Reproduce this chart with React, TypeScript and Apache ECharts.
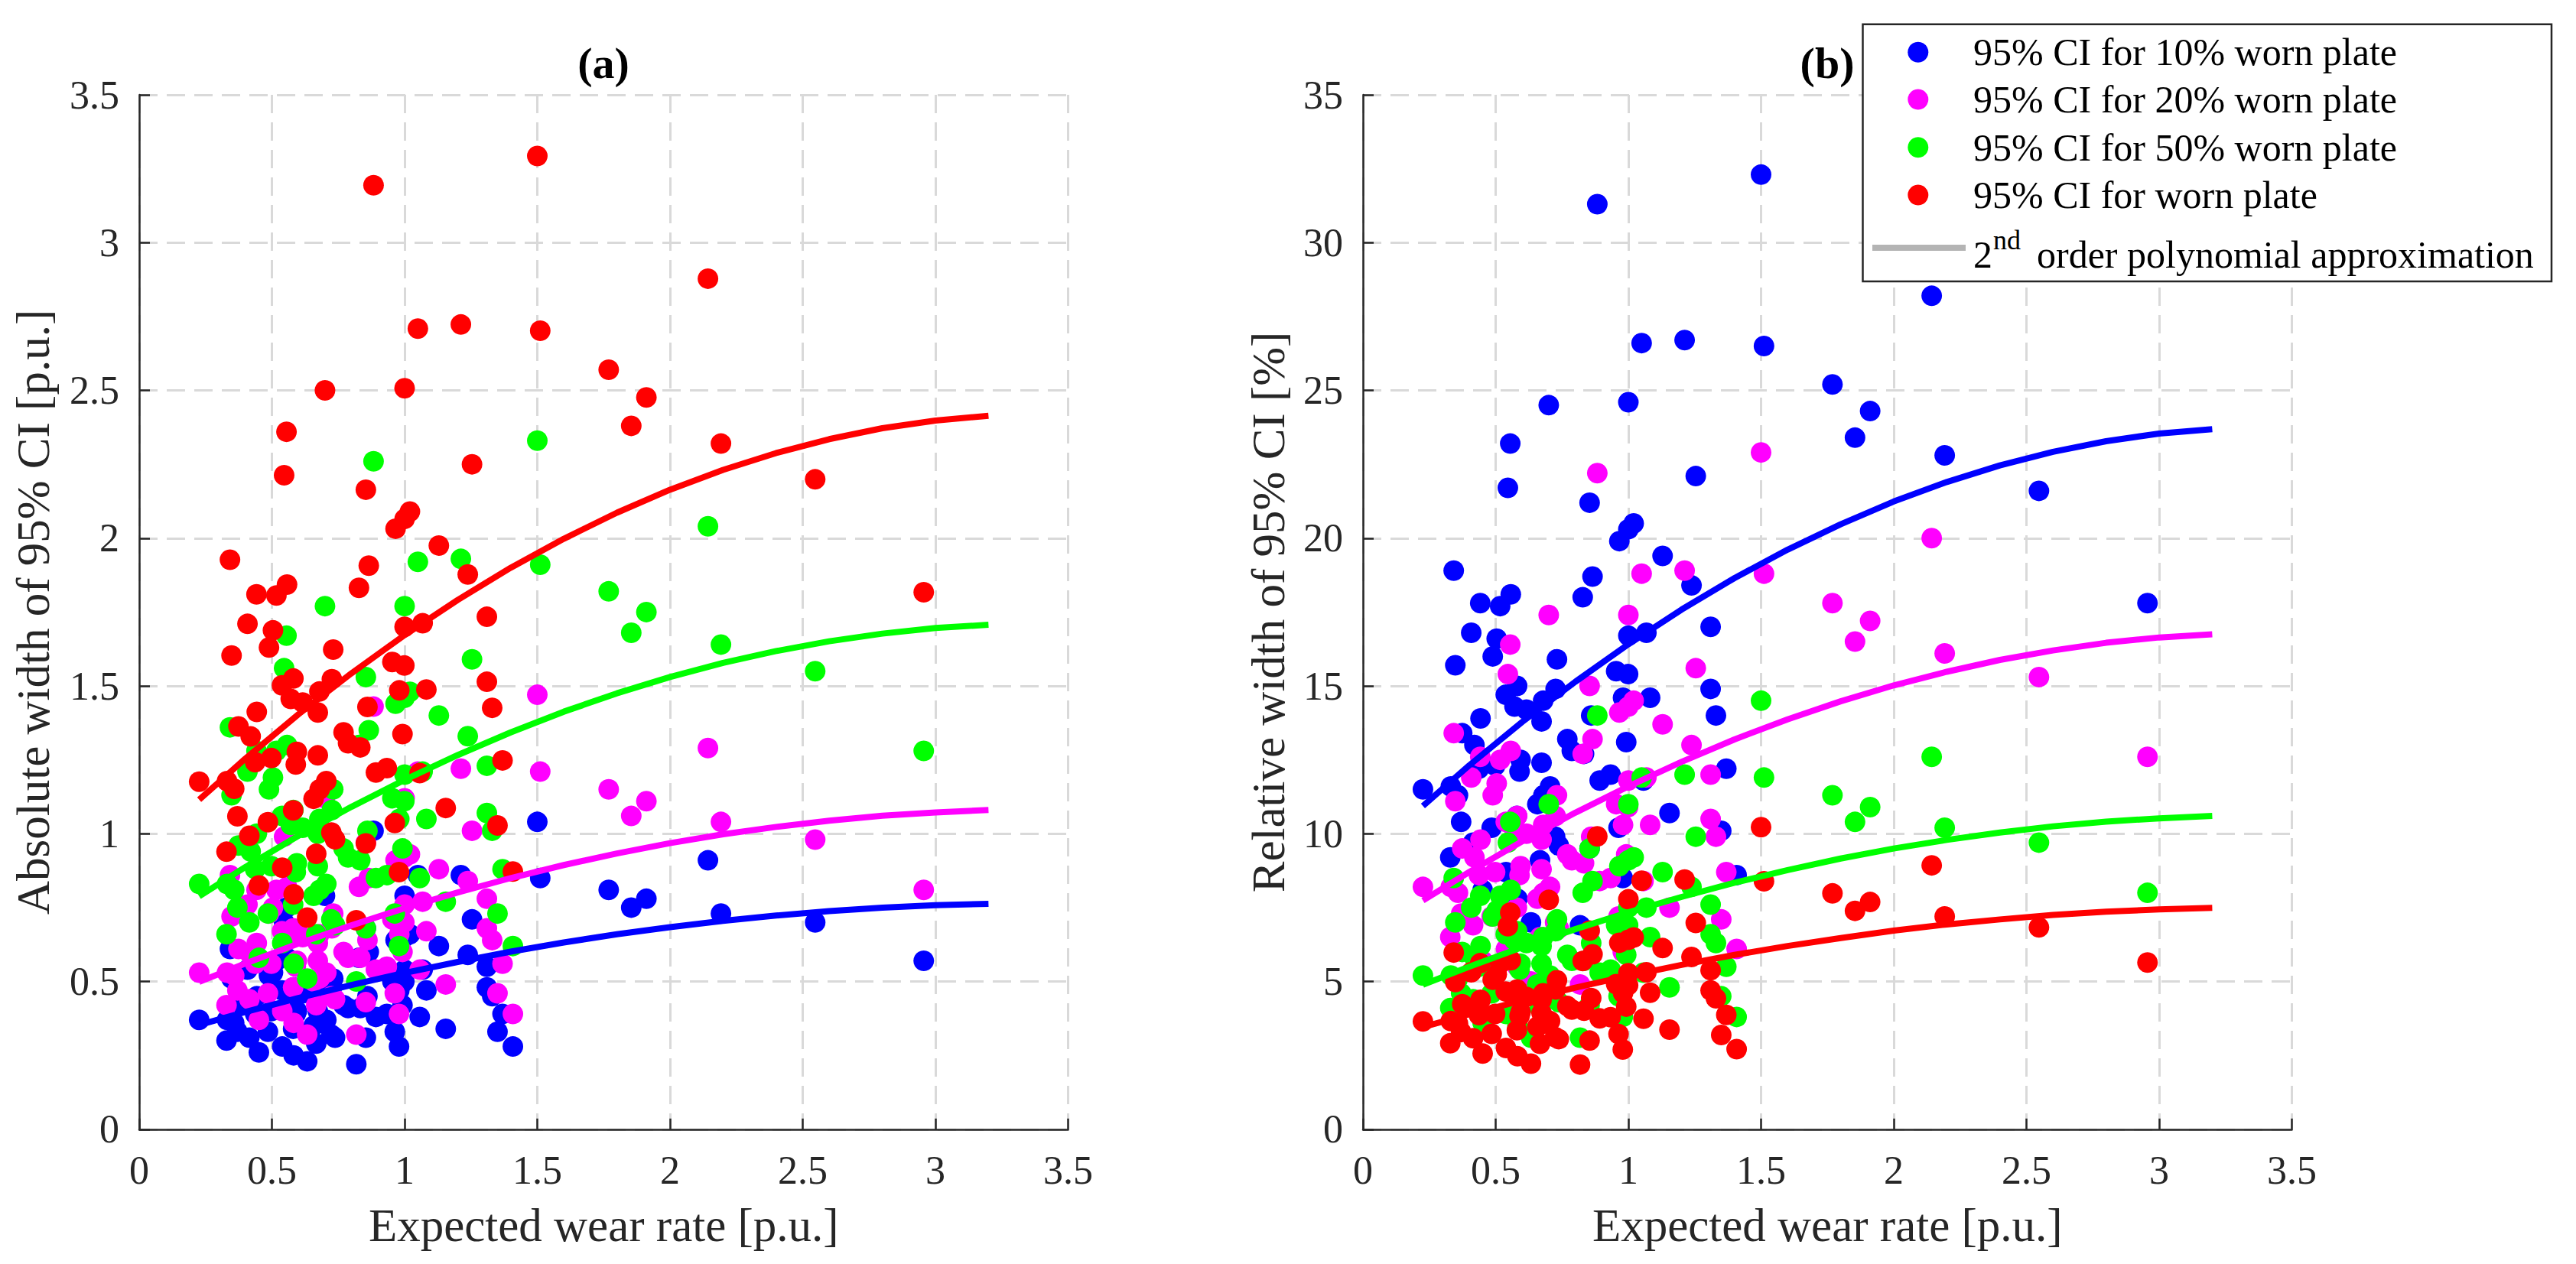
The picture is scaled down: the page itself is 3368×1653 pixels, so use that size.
import React, { useEffect, useRef } from "react";
import * as echarts from "echarts";

// Expected wear rate [p.u.] (shared by every series)
const X = [
  0.226, 0.329, 0.331, 0.342, 0.348, 0.358, 0.370, 0.374, 0.408, 0.415,
  0.420, 0.437, 0.442, 0.443, 0.451, 0.485, 0.489, 0.498, 0.504, 0.517,
  0.538, 0.539, 0.546, 0.555, 0.557, 0.571, 0.580, 0.581, 0.582, 0.590,
  0.594, 0.616, 0.633, 0.657, 0.667, 0.673, 0.673, 0.680, 0.679, 0.700,
  0.705, 0.724, 0.726, 0.731, 0.738, 0.770, 0.787, 0.818, 0.828, 0.833,
  0.854, 0.854, 0.860, 0.865, 0.883, 0.892, 0.933, 0.954, 0.963, 0.966,
  0.979, 0.980, 0.992, 0.999, 1.000, 1.000, 1.000, 1.020, 1.050, 1.057,
  1.068, 1.082, 1.129, 1.155, 1.212, 1.238, 1.254, 1.310, 1.310, 1.330,
  1.350, 1.369, 1.408, 1.500, 1.511, 1.769, 1.854, 1.911, 2.143, 2.192,
  2.547, 2.956,
];

// (a) Absolute width of 95% CI [p.u.]
const A_BLUE = [
  0.37, 0.30, 0.37, 0.61, 0.51, 0.36, 0.33, 0.43, 0.54, 0.31,
  0.42, 0.39, 0.57, 0.45, 0.26, 0.33, 0.52, 0.40, 0.53, 0.57,
  0.47, 0.28, 0.70, 0.75, 0.58, 0.46, 0.34, 0.48, 0.25, 0.39,
  0.40, 0.46, 0.23, 0.35, 0.29, 0.45, 0.40, 0.36, 0.47, 0.79,
  0.37, 0.32, 0.48, 0.51, 0.31, 0.42, 0.41, 0.22, 0.58, 0.41,
  0.31, 0.68, 0.45, 0.60, 1.01, 0.38, 0.39, 0.50, 0.33, 0.64,
  0.28, 0.47, 0.42, 0.50, 0.54, 0.79, 0.65, 0.66, 0.86, 0.38,
  0.54, 0.47, 0.62, 0.34, 0.86, 0.59, 0.71, 0.55, 0.48, 0.45,
  0.33, 0.39, 0.28, 1.04, 0.85, 0.81, 0.75, 0.78, 0.91, 0.73,
  0.70, 0.57,
];
const A_MAGENTA = [
  0.53, 0.42, 0.53, 0.86, 0.72, 0.52, 0.47, 0.61, 0.76, 0.44,
  0.59, 0.56, 0.81, 0.63, 0.37, 0.46, 0.73, 0.56, 0.75, 0.81,
  0.67, 0.40, 0.99, 1.06, 0.82, 0.65, 0.48, 0.68, 0.36, 0.55,
  0.57, 0.65, 0.32, 0.50, 0.42, 0.63, 0.57, 0.51, 0.66, 1.12,
  0.53, 0.45, 0.68, 0.73, 0.44, 0.60, 0.58, 0.32, 0.82, 0.58,
  0.43, 0.97, 0.64, 0.85, 1.43, 0.54, 0.55, 0.71, 0.46, 0.91,
  0.39, 0.66, 0.60, 0.70, 0.76, 1.12, 0.92, 0.93, 1.21, 0.54,
  0.77, 0.67, 0.88, 0.49, 1.22, 0.84, 1.01, 0.78, 0.68, 0.64,
  0.46, 0.56, 0.39, 1.47, 1.21, 1.15, 1.06, 1.11, 1.29, 1.04,
  0.98, 0.81,
];
const A_GREEN = [
  0.83, 0.66, 0.83, 1.36, 1.13, 0.81, 0.75, 0.96, 1.21, 0.70,
  0.94, 0.88, 1.28, 1.00, 0.58, 0.73, 1.15, 0.89, 1.19, 1.28,
  1.06, 0.63, 1.56, 1.67, 1.30, 1.03, 0.76, 1.08, 0.56, 0.87,
  0.90, 1.02, 0.51, 0.79, 0.66, 1.00, 0.89, 0.81, 1.05, 1.77,
  0.83, 0.71, 1.08, 1.15, 0.69, 0.95, 0.92, 0.50, 1.30, 0.91,
  0.68, 1.53, 1.01, 1.35, 2.26, 0.85, 0.86, 1.12, 0.73, 1.44,
  0.62, 1.05, 0.95, 1.11, 1.20, 1.77, 1.46, 1.48, 1.92, 0.85,
  1.21, 1.05, 1.40, 0.77, 1.93, 1.33, 1.59, 1.23, 1.07, 1.01,
  0.73, 0.88, 0.62, 2.33, 1.91, 1.82, 1.68, 1.75, 2.04, 1.64,
  1.55, 1.28,
];
const A_RED = [
  1.176, 0.939, 1.178, 1.927, 1.603, 1.152, 1.059, 1.363, 1.710, 0.993,
  1.329, 1.242, 1.810, 1.412, 0.825, 1.039, 1.630, 1.256, 1.688, 1.806,
  1.502, 0.885, 2.213, 2.360, 1.843, 1.456, 1.079, 1.525, 0.795, 1.234,
  1.277, 1.444, 0.716, 1.118, 0.932, 1.410, 1.265, 1.150, 1.481, 2.500,
  1.178, 1.004, 1.523, 1.623, 0.981, 1.343, 1.306, 0.707, 1.832, 1.292,
  0.967, 2.164, 1.429, 1.907, 3.194, 1.207, 1.222, 1.581, 1.036, 2.032,
  0.870, 1.485, 1.337, 1.569, 1.700, 2.507, 2.065, 2.090, 2.709, 1.205,
  1.712, 1.488, 1.975, 1.087, 2.723, 1.877, 2.250, 1.734, 1.514, 1.426,
  1.028, 1.248, 0.872, 3.293, 2.702, 2.570, 2.380, 2.476, 2.878, 2.320,
  2.199, 1.817,
];

// (b) Relative width of 95% CI [%]
const B_BLUE = [
  11.5, 9.2, 11.6, 18.9, 15.7, 11.3, 10.4, 13.4, 16.8, 9.7,
  13.0, 12.2, 17.8, 13.9, 8.1, 10.2, 16.0, 12.3, 16.6, 17.7,
  14.7, 8.7, 21.7, 23.2, 18.1, 14.3, 10.6, 15.0, 7.8, 12.1,
  12.5, 14.2, 7.0, 11.0, 9.1, 13.8, 12.4, 11.3, 14.5, 24.5,
  11.6, 9.9, 14.9, 15.9, 9.6, 13.2, 12.8, 6.9, 18.0, 12.7,
  9.5, 21.2, 14.0, 18.7, 31.3, 11.8, 12.0, 15.5, 10.2, 19.9,
  8.5, 14.6, 13.1, 15.4, 16.7, 24.6, 20.3, 20.5, 26.6, 11.8,
  16.8, 14.6, 19.4, 10.7, 26.7, 18.4, 22.1, 17.0, 14.9, 14.0,
  10.1, 12.2, 8.6, 32.3, 26.5, 25.2, 23.4, 24.3, 28.2, 22.8,
  21.6, 17.8,
];
const B_MAGENTA = [
  8.2, 6.5, 8.2, 13.4, 11.1, 8.0, 7.3, 9.5, 11.9, 6.9,
  9.2, 8.6, 12.6, 9.8, 5.7, 7.2, 11.3, 8.7, 11.7, 12.5,
  10.4, 6.1, 15.4, 16.4, 12.8, 10.1, 7.5, 10.6, 5.5, 8.6,
  8.9, 10.0, 5.0, 7.8, 6.5, 9.8, 8.8, 8.0, 10.3, 17.4,
  8.2, 7.0, 10.6, 11.3, 6.8, 9.3, 9.1, 4.9, 12.7, 9.0,
  6.7, 15.0, 9.9, 13.2, 22.2, 8.4, 8.5, 11.0, 7.2, 14.1,
  6.0, 10.3, 9.3, 10.9, 11.8, 17.4, 14.3, 14.5, 18.8, 8.4,
  11.9, 10.3, 13.7, 7.5, 18.9, 13.0, 15.6, 12.0, 10.5, 9.9,
  7.1, 8.7, 6.1, 22.9, 18.8, 17.8, 16.5, 17.2, 20.0, 16.1,
  15.3, 12.6,
];
const B_GREEN = [
  5.2, 4.1, 5.2, 8.5, 7.0, 5.1, 4.6, 6.0, 7.5, 4.4,
  5.8, 5.5, 7.9, 6.2, 3.6, 4.6, 7.2, 5.5, 7.4, 7.9,
  6.6, 3.9, 9.7, 10.4, 8.1, 6.4, 4.7, 6.7, 3.5, 5.4,
  5.6, 6.3, 3.1, 4.9, 4.1, 6.2, 5.6, 5.0, 6.5, 11.0,
  5.2, 4.4, 6.7, 7.1, 4.3, 5.9, 5.7, 3.1, 8.0, 5.7,
  4.2, 9.5, 6.3, 8.4, 14.0, 5.3, 5.4, 6.9, 4.5, 8.9,
  3.8, 6.5, 5.9, 6.9, 7.5, 11.0, 9.1, 9.2, 11.9, 5.3,
  7.5, 6.5, 8.7, 4.8, 12.0, 8.2, 9.9, 7.6, 6.6, 6.3,
  4.5, 5.5, 3.8, 14.5, 11.9, 11.3, 10.4, 10.9, 12.6, 10.2,
  9.7, 8.0,
];
const B_RED = [
  3.65, 2.91, 3.66, 5.98, 4.98, 3.58, 3.29, 4.23, 5.31, 3.08,
  4.13, 3.86, 5.62, 4.38, 2.56, 3.23, 5.06, 3.90, 5.24, 5.61,
  4.66, 2.75, 6.87, 7.33, 5.72, 4.52, 3.35, 4.73, 2.47, 3.83,
  3.96, 4.48, 2.22, 3.47, 2.89, 4.38, 3.93, 3.57, 4.60, 7.76,
  3.66, 3.12, 4.73, 5.04, 3.05, 4.17, 4.05, 2.19, 5.69, 4.01,
  3.00, 6.72, 4.44, 5.92, 9.91, 3.75, 3.79, 4.91, 3.22, 6.31,
  2.70, 4.61, 4.15, 4.87, 5.28, 7.78, 6.41, 6.49, 8.41, 3.74,
  5.31, 4.62, 6.13, 3.37, 8.45, 5.83, 6.98, 5.38, 4.70, 4.43,
  3.19, 3.87, 2.71, 10.22, 8.39, 7.98, 7.39, 7.69, 8.93, 7.20,
  6.83, 5.64,
];

// 2nd order polynomial approximation curves, read at these x positions
const FIT_X = [0.226, 0.4, 0.6, 0.8, 1.0, 1.2, 1.4, 1.6, 1.8, 2.0, 2.2, 2.4, 2.6, 2.8, 3.0, 3.2];
const FIT_A_BLUE = [0.353, 0.397, 0.444, 0.488, 0.529, 0.566, 0.601, 0.632, 0.660, 0.684, 0.705, 0.723, 0.738, 0.750, 0.758, 0.763];
const FIT_A_MAGENTA = [0.499, 0.561, 0.628, 0.690, 0.748, 0.801, 0.850, 0.894, 0.933, 0.968, 0.998, 1.023, 1.044, 1.061, 1.072, 1.080];
const FIT_A_GREEN = [0.788, 0.887, 0.993, 1.091, 1.182, 1.266, 1.343, 1.413, 1.475, 1.530, 1.578, 1.618, 1.651, 1.677, 1.696, 1.707];
const FIT_A_RED = [1.115, 1.254, 1.404, 1.543, 1.672, 1.791, 1.900, 1.998, 2.086, 2.164, 2.231, 2.288, 2.335, 2.372, 2.398, 2.414];
const FIT_B_BLUE = [10.94, 12.31, 13.78, 15.14, 16.41, 17.58, 18.65, 19.61, 20.47, 21.24, 21.90, 22.46, 22.92, 23.28, 23.54, 23.69];
const FIT_B_MAGENTA = [7.74, 8.70, 9.74, 10.71, 11.60, 12.43, 13.19, 13.87, 14.48, 15.02, 15.48, 15.88, 16.20, 16.46, 16.64, 16.75];
const FIT_B_GREEN = [4.89, 5.50, 6.16, 6.77, 7.34, 7.86, 8.34, 8.77, 9.16, 9.50, 9.79, 10.04, 10.25, 10.41, 10.52, 10.60];
const FIT_B_RED = [3.46, 3.89, 4.36, 4.79, 5.19, 5.56, 5.90, 6.20, 6.47, 6.72, 6.93, 7.10, 7.25, 7.36, 7.44, 7.49];

const SERIES_NAMES = [
  "95% CI for 10% worn plate",
  "95% CI for 20% worn plate",
  "95% CI for 50% worn plate",
  "95% CI for worn plate",
];
const COLORS = ["#0000ff", "#ff00ff", "#00ff00", "#ff0000"];
const TITLES = ["(a)", "(b)"];
const X_NAME = "Expected wear rate [p.u.]";
const Y_NAMES = ["Absolute width of 95% CI [p.u.]", "Relative width of 95% CI [%]"];
const FIT_LABEL = ["2", "nd", "order polynomial approximation"];

const FONT = '"Liberation Serif", "Times New Roman", Times, serif';
const AX = "#262626";

export default function App() {
  const ref = useRef<HTMLDivElement>(null);

  useEffect(() => {
    document.body.style.margin = "0";
    const chart = echarts.init(ref.current as HTMLDivElement, null, { renderer: "svg" });

    const pairs = (xs: number[], ys: number[]) => xs.map((x, i) => [x, ys[i]]);

    const scatter = (idx: number, ys: number[], gi: number) => ({
      type: "scatter",
      name: SERIES_NAMES[idx],
      xAxisIndex: gi,
      yAxisIndex: gi,
      data: pairs(X, ys),
      symbol: "circle",
      symbolSize: 27,
      itemStyle: { color: COLORS[idx], opacity: 1 },
      emphasis: { disabled: true },
      silent: true,
      z: 2,
    });
    const fit = (idx: number, ys: number[], gi: number) => ({
      type: "line",
      xAxisIndex: gi,
      yAxisIndex: gi,
      data: pairs(FIT_X, ys),
      showSymbol: false,
      symbol: "none",
      lineStyle: { color: COLORS[idx], width: 8, cap: "butt" },
      emphasis: { disabled: true },
      silent: true,
      z: 3,
    });

    const gridLine = { show: true, lineStyle: { color: "#d9d9d9", width: 3, type: [24, 12] } };
    const axisLine = { show: true, onZero: false, lineStyle: { color: AX, width: 2.5 } };
    const axisTick = { show: true, inside: true, length: 14, lineStyle: { color: AX, width: 2.5 } };

    const xAxis = (gi: number) => ({
      type: "value",
      gridIndex: gi,
      min: 0,
      max: 3.5,
      interval: 0.5,
      name: X_NAME,
      nameLocation: "middle",
      nameGap: 95,
      nameTextStyle: { fontFamily: FONT, fontSize: 61, color: AX },
      axisLine,
      axisTick,
      axisLabel: { fontFamily: FONT, fontSize: 52, color: AX, margin: 28 },
      splitLine: gridLine,
    });
    const yAxis = (gi: number, max: number, interval: number, gap: number) => ({
      type: "value",
      gridIndex: gi,
      min: 0,
      max,
      interval,
      name: Y_NAMES[gi],
      nameLocation: "middle",
      nameGap: gap,
      nameTextStyle: { fontFamily: FONT, fontSize: 61, color: AX },
      axisLine,
      axisTick,
      axisLabel: { fontFamily: FONT, fontSize: 52, color: AX, margin: 26 },
      splitLine: gridLine,
    });

    const txt = (text: string, x: number, y: number, size: number, align = "left", weight = "normal") => ({
      type: "text",
      x,
      y,
      z: 102,
      silent: true,
      style: {
        text,
        fontFamily: FONT,
        fontSize: size,
        fontWeight: weight,
        fill: "#000",
        align,
        verticalAlign: "middle",
        textAlign: align,
        textVerticalAlign: "middle",
      },
    });

    const LEG_ROWS = [68.3, 130.0, 192.7, 255.0];
    const legend: any[] = [
      {
        type: "rect",
        z: 100,
        silent: true,
        shape: { x: 2435.5, y: 31.7, width: 900.5, height: 336.3 },
        style: { fill: "#ffffff", stroke: AX, lineWidth: 2.5 },
      },
    ];
    LEG_ROWS.forEach((cy, i) => {
      legend.push({
        type: "circle",
        z: 101,
        silent: true,
        shape: { cx: 2507.8, cy, r: 13.5 },
        style: { fill: COLORS[i] },
      });
      legend.push(txt(SERIES_NAMES[i], 2580, cy, 50));
    });
    legend.push({
      type: "line",
      z: 101,
      silent: true,
      shape: { x1: 2448, y1: 324, x2: 2570, y2: 324 },
      style: { stroke: "#b4b4b4", lineWidth: 8 },
    });
    legend.push(txt(FIT_LABEL[0], 2580, 333, 50));
    legend.push(txt(FIT_LABEL[1], 2606, 314, 36));
    legend.push(txt(FIT_LABEL[2], 2663, 333, 50));

    const option: any = {
      animation: false,
      backgroundColor: "#ffffff",
      textStyle: { fontFamily: FONT },
      grid: [
        { left: 182, top: 124, width: 1214.5, height: 1352.8, containLabel: false, outerBoundsMode: "none" },
        { left: 1782, top: 124, width: 1214.5, height: 1352.8, containLabel: false, outerBoundsMode: "none" },
      ],
      xAxis: [xAxis(0), xAxis(1)],
      yAxis: [yAxis(0, 3.5, 0.5, 108), yAxis(1, 35, 5, 93)],
      series: [
        scatter(0, A_BLUE, 0),
        scatter(1, A_MAGENTA, 0),
        scatter(2, A_GREEN, 0),
        scatter(3, A_RED, 0),
        fit(0, FIT_A_BLUE, 0),
        fit(1, FIT_A_MAGENTA, 0),
        fit(2, FIT_A_GREEN, 0),
        fit(3, FIT_A_RED, 0),
        scatter(0, B_BLUE, 1),
        scatter(1, B_MAGENTA, 1),
        scatter(2, B_GREEN, 1),
        scatter(3, B_RED, 1),
        fit(0, FIT_B_BLUE, 1),
        fit(1, FIT_B_MAGENTA, 1),
        fit(2, FIT_B_GREEN, 1),
        fit(3, FIT_B_RED, 1),
      ],
      graphic: [
        txt(TITLES[0], 789, 82, 58, "center", "bold"),
        txt(TITLES[1], 2389, 82, 58, "center", "bold"),
        ...legend,
      ],
    };

    chart.setOption(option);
    return () => chart.dispose();
  }, []);

  return <div ref={ref} style={{ width: 3368, height: 1653 }} />;
}
